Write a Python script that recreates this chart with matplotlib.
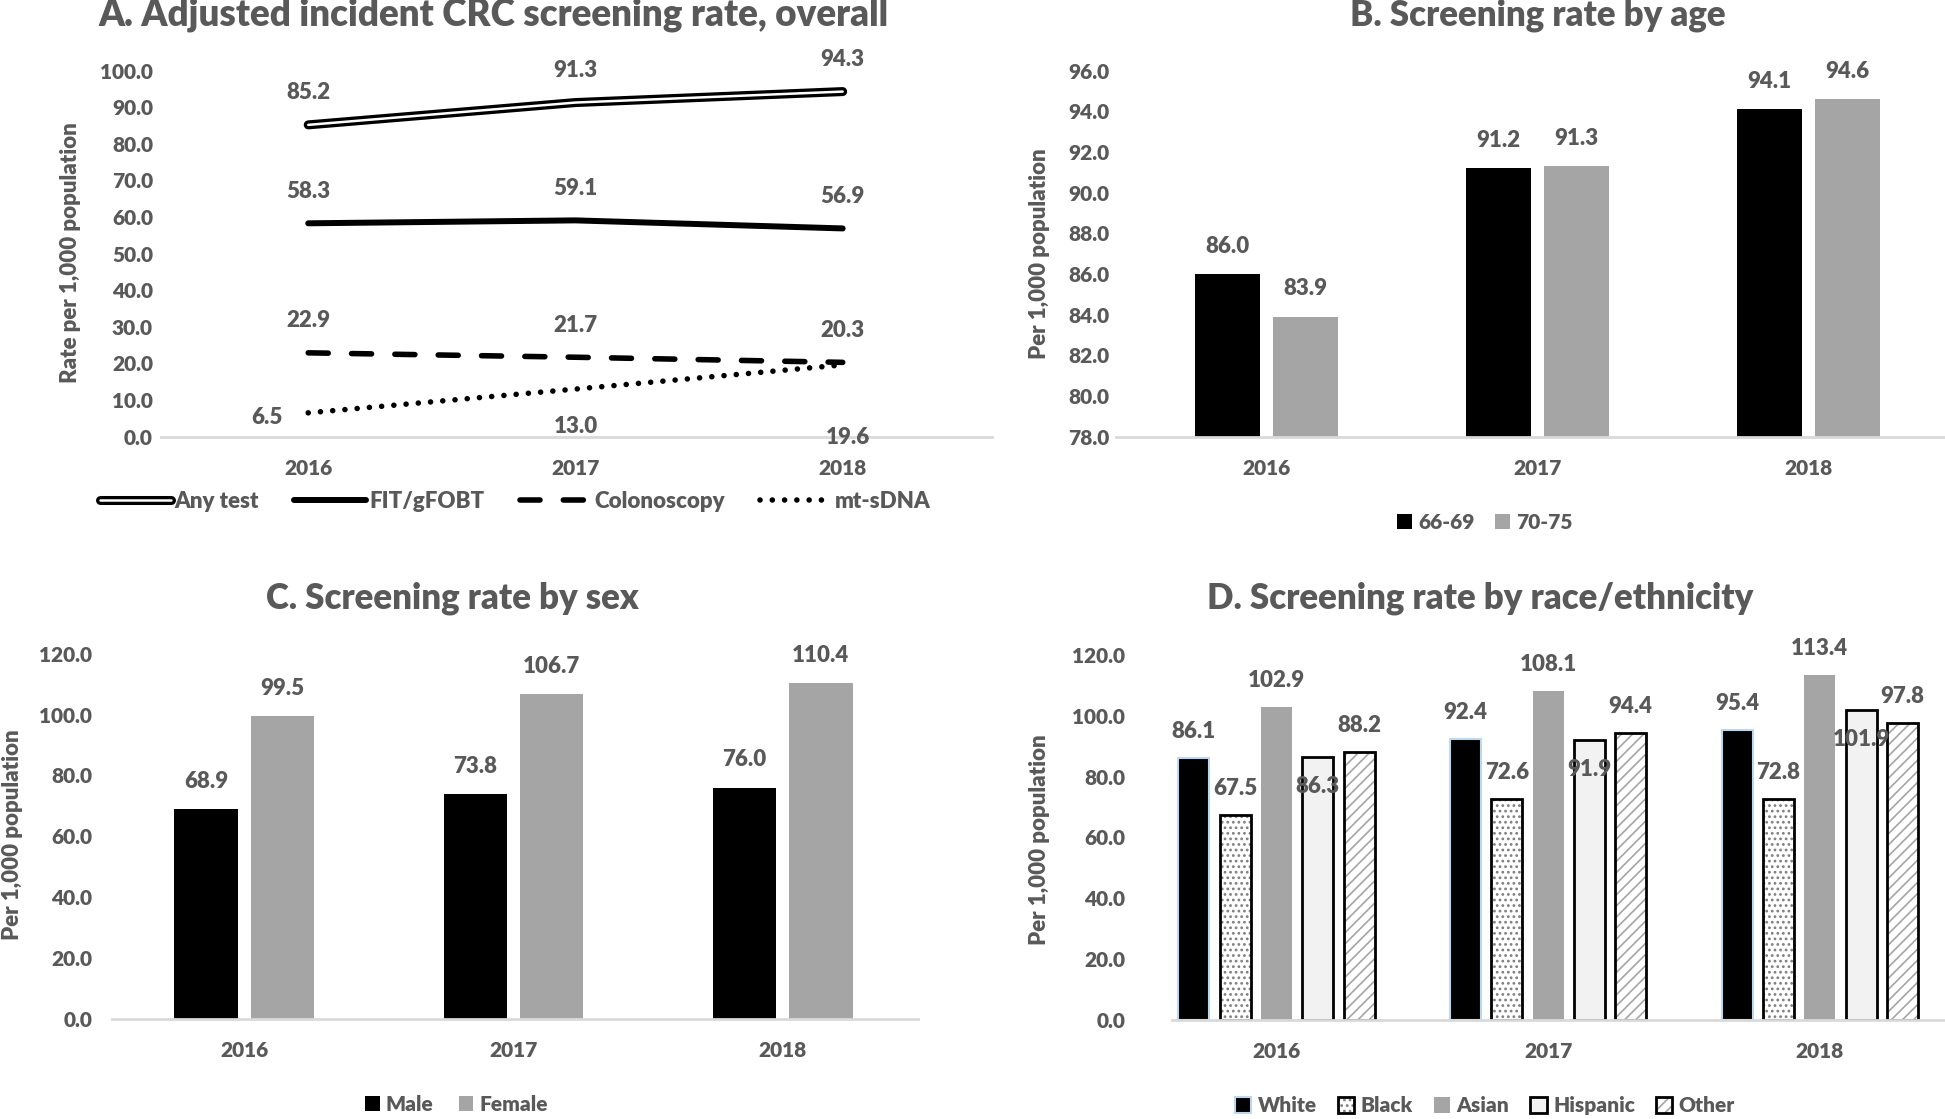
import numpy as np
import matplotlib
matplotlib.use("Agg")
import matplotlib.pyplot as plt
import matplotlib.patheffects as pe
from matplotlib.patches import Patch

plt.rcParams["font.family"] = ["Lato", "DejaVu Sans"]
plt.rcParams["font.weight"] = "heavy"
plt.rcParams["hatch.linewidth"] = 1.2

TXT = "#595959"
AXC = "#D9D9D9"
WT = "heavy"

years = ["2016", "2017", "2018"]

# panel A: overall rates
any_test = [85.2, 91.3, 94.3]
fit_gfobt = [58.3, 59.1, 56.9]
colonoscopy = [22.9, 21.7, 20.3]
mt_sdna = [6.5, 13.0, 19.6]

# panel B: by age
age_groups = ["66-69", "70-75"]
age_66_69 = [86.0, 91.2, 94.1]
age_70_75 = [83.9, 91.3, 94.6]

# panel C: by sex
sexes = ["Male", "Female"]
male = [68.9, 73.8, 76.0]
female = [99.5, 106.7, 110.4]

# panel D: by race/ethnicity
races = ["White", "Black", "Asian", "Hispanic", "Other"]
white = [86.1, 92.4, 95.4]
black = [67.5, 72.6, 72.8]
asian = [102.9, 108.1, 113.4]
hispanic = [86.3, 91.9, 101.9]
other = [88.2, 94.4, 97.8]

fig = plt.figure(figsize=(19.45, 11.19), dpi=100)


def setup(ax, ylim, yticks, xlim, pad):
    ax.set_ylim(*ylim)
    ax.set_xlim(*xlim)
    ax.set_yticks(yticks)
    ax.set_yticklabels([f"{t:.1f}" for t in yticks])
    ax.set_xticks(range(3))
    ax.set_xticklabels(years)
    for s in ["top", "right", "left"]:
        ax.spines[s].set_visible(False)
    ax.spines["bottom"].set_color(AXC)
    ax.spines["bottom"].set_linewidth(2)
    ax.tick_params(axis="y", length=0, pad=pad, labelsize=15, labelcolor=TXT)
    ax.tick_params(axis="x", length=0, pad=16, labelsize=15, labelcolor=TXT)
    ax.patch.set_alpha(0)


def label(ax, x, y, txt, dy, dx=0):
    ax.annotate(txt, (x, y), xytext=(dx, dy), textcoords="offset points",
                ha="center", va="center", fontsize=16, color=TXT,
                fontweight=WT, annotation_clip=False)


x = np.arange(3)

# ---------------- A ----------------
axA = fig.add_axes([0.0829, 0.6098, 0.4273, 0.3270])
setup(axA, (0, 100), np.arange(0, 101, 10), (-0.55, 2.56), 6)
lA1, = axA.plot(x, any_test, color="white", lw=1.8, solid_capstyle="round",
                path_effects=[pe.Stroke(linewidth=6.5, foreground="black",
                                        capstyle="round"), pe.Normal()],
                label="Any test")
lA2, = axA.plot(x, fit_gfobt, color="black", lw=4.3, solid_capstyle="round",
                label="FIT/gFOBT")
lA3, = axA.plot(x, colonoscopy, color="black", lw=4.0, dashes=(3.6, 4.2),
                dash_capstyle="round", label="Colonoscopy")
lA4, = axA.plot(x, mt_sdna, color="black", lw=4.0, dashes=(0.01, 2.2),
                dash_capstyle="round", label="mt-sDNA")
for i in range(3):
    label(axA, i, any_test[i], f"{any_test[i]:.1f}", 23)
    label(axA, i, fit_gfobt[i], f"{fit_gfobt[i]:.1f}", 23)
    label(axA, i, colonoscopy[i], f"{colonoscopy[i]:.1f}", 23)
# mt-sDNA labels sit left / below the points
mt_off = [(-30, -3), (0, -27), (4, -52)]
for i in range(3):
    label(axA, i, mt_sdna[i], f"{mt_sdna[i]:.1f}", mt_off[i][1], mt_off[i][0])
axA.legend(handles=[lA1, lA2, lA3, lA4], loc="center", ncol=4,
           bbox_to_anchor=(0.2649, 0.5521), bbox_transform=fig.transFigure,
           frameon=False, fontsize=16, labelcolor=TXT, handlelength=3.2,
           handletextpad=0.15, columnspacing=1.6)
fig.text(0.2538, 0.9867, "A. Adjusted incident CRC screening rate, overall",
         ha="center", va="center", fontsize=26.5, color=TXT, fontweight=WT)
fig.text(0.0364, 0.774, "Rate per 1,000 population", rotation=90,
         ha="center", va="center", fontsize=16, color=TXT, fontweight=WT)

# ---------------- B ----------------
axB = fig.add_axes([0.574, 0.6098, 0.426, 0.3270])
setup(axB, (78, 96), np.arange(78, 96.1, 2), (-0.554, 2.503), 5)
w2 = 0.238
axB.bar(x - 0.144, age_66_69, w2, color="black", label=age_groups[0])
axB.bar(x + 0.144, age_70_75, w2, color="#A5A5A5", label=age_groups[1])
for i in range(3):
    label(axB, i - 0.144, age_66_69[i], f"{age_66_69[i]:.1f}", 20)
    label(axB, i + 0.144, age_70_75[i], f"{age_70_75[i]:.1f}", 20)
axB.legend(loc="center", ncol=2, bbox_to_anchor=(0.7634, 0.5333),
           bbox_transform=fig.transFigure, frameon=False, fontsize=15,
           labelcolor=TXT, handlelength=0.7, handleheight=0.7,
           handletextpad=0.3, columnspacing=1.0)
fig.text(0.7908, 0.9867, "B. Screening rate by age", ha="center", va="center",
         fontsize=25, color=TXT, fontweight=WT)
fig.text(0.5344, 0.773, "Per 1,000 population", rotation=90, ha="center",
         va="center", fontsize=16, color=TXT, fontweight=WT)

# ---------------- C ----------------
axC = fig.add_axes([0.0574, 0.0898, 0.4145, 0.3259])
setup(axC, (0, 120), np.arange(0, 121, 20), (-0.493, 2.502), 14)
wc = 0.235
axC.bar(x - 0.142, male, wc, color="black", label=sexes[0])
axC.bar(x + 0.142, female, wc, color="#A5A5A5", label=sexes[1])
for i in range(3):
    label(axC, i - 0.142, male[i], f"{male[i]:.1f}", 20)
    label(axC, i + 0.142, female[i], f"{female[i]:.1f}", 20)
axC.legend(loc="center", ncol=2, bbox_to_anchor=(0.2347, 0.0133),
           bbox_transform=fig.transFigure, frameon=False, fontsize=15,
           labelcolor=TXT, handlelength=0.7, handleheight=0.7,
           handletextpad=0.3, columnspacing=1.2)
fig.text(0.2328, 0.4656, "C. Screening rate by sex", ha="center", va="center",
         fontsize=25, color=TXT, fontweight=WT)
fig.text(0.0064, 0.254, "Per 1,000 population", rotation=90, ha="center",
         va="center", fontsize=16, color=TXT, fontweight=WT)

# ---------------- D ----------------
axD = fig.add_axes([0.6027, 0.0887, 0.3973, 0.3259])
setup(axD, (0, 120), np.arange(0, 121, 20), (-0.384, 2.461), 34)
wd = 0.114
step = 0.152
race_vals = [white, black, asian, hispanic, other]
styles = [
    dict(facecolor="black", edgecolor="#BDD7EE", linewidth=1.5),
    dict(facecolor="white", edgecolor="#7F7F7F", linewidth=0, hatch="..."),
    dict(facecolor="#A5A5A5", edgecolor="#A5A5A5", linewidth=0),
    dict(facecolor="#F2F2F2", edgecolor="black", linewidth=2),
    dict(facecolor="white", edgecolor="#A5A5A5", linewidth=0, hatch="///"),
]
handles = []
for k, (vals, st) in enumerate(zip(race_vals, styles)):
    pos = x + (k - 2) * step
    axD.bar(pos, vals, wd, **st)
    h = Patch(**st)
    if k in (1, 4):
        # black outline on top of the hatched fill
        axD.bar(pos, vals, wd, facecolor="none", edgecolor="black", linewidth=2)
        h = (h, Patch(facecolor="none", edgecolor="black", linewidth=2))
    handles.append(h)
    for i in range(3):
        if k == 3:
            label(axD, pos[i], vals[i], f"{vals[i]:.1f}", -21)
        else:
            label(axD, pos[i], vals[i], f"{vals[i]:.1f}", 19)
axD.legend(handles, races, loc="center", ncol=5,
           bbox_to_anchor=(0.7634, 0.0122), bbox_transform=fig.transFigure,
           frameon=False, fontsize=15, labelcolor=TXT, handlelength=0.8,
           handleheight=0.8, handletextpad=0.3, columnspacing=1.0)
fig.text(0.7608, 0.4656, "D. Screening rate by race/ethnicity", ha="center",
         va="center", fontsize=25, color=TXT, fontweight=WT)
fig.text(0.5344, 0.25, "Per 1,000 population", rotation=90, ha="center",
         va="center", fontsize=16, color=TXT, fontweight=WT)

fig.savefig("out.png", dpi=100)
